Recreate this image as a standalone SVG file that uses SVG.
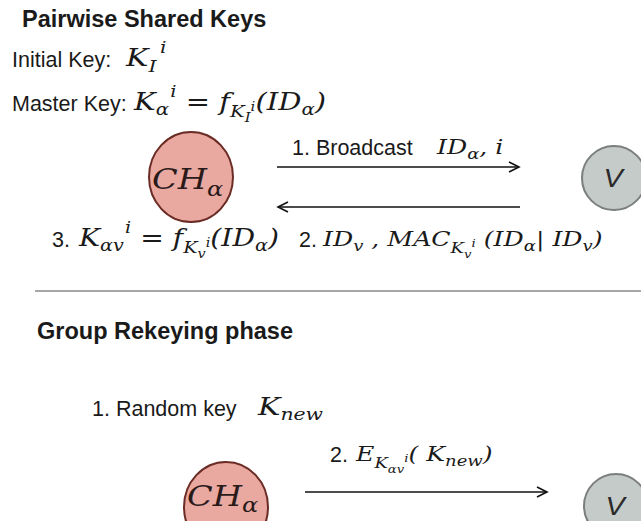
<svg xmlns="http://www.w3.org/2000/svg" width="641" height="521" viewBox="0 0 641 521">
<style>
  .h { font-family: "Liberation Sans", Arial, sans-serif; font-weight: bold; font-size: 23.5px; fill: #1a1a1a; }
  .t { font-family: "Liberation Sans", Arial, sans-serif; font-size: 21.5px; fill: #1a1a1a; }
  .m { font-family: "DejaVu Serif", "Liberation Serif", serif; font-style: italic; font-size: 25px; fill: #1a1a1a; }
  .s { font-size: 17px; }
  .ss { font-size: 13px; }
  .ch { fill: #E9A9A0; stroke: #6B2C25; stroke-width: 2; }
  .v { fill: #C4CBC8; stroke: #7A7F7D; stroke-width: 2; }
  .nl { font-family: "DejaVu Serif", "Liberation Serif", serif; font-style: italic; font-size: 28px; fill: #2a1a1a; }
  .vl { font-family: "Liberation Sans", Arial, sans-serif; font-style: italic; font-size: 25px; fill: #2a2a2a; }
  .arr { stroke: #111; stroke-width: 1.6; fill: none; }
  .l2 .m { font-size: 21px; }
  .l2 .s { font-size: 15px; }
  .l2 .ss { font-size: 11px; }
  .l3 .m { font-size: 23.5px; }
  .l3 .s { font-size: 16px; }
  .l3 .ss { font-size: 12px; }
</style>
<defs>
  <marker id="head" markerWidth="14" markerHeight="12" refX="11" refY="6" orient="auto" markerUnits="userSpaceOnUse">
    <path d="M1,1 L11,6 L1,11" fill="none" stroke="#111" stroke-width="1.6"/>
  </marker>
</defs>

<rect width="641" height="521" fill="#ffffff"/>

<!-- headings and key definitions; formulas are drawn slightly wide -->
<text class="h" x="22" y="27">Pairwise Shared Keys</text>
<text class="t" x="12" y="67">Initial Key:</text>
<text class="m" transform="translate(126,66) scale(1.2,1)">K<tspan class="s" dy="6">I</tspan><tspan class="s" dy="-19" dx="3">i</tspan></text>
<text class="t" x="12" y="111">Master Key:</text>
<text class="m" transform="translate(134,110) scale(1.16,1)">K<tspan class="s" dy="5">α</tspan><tspan class="s" dy="-18" dx="1">i</tspan><tspan dy="13"> = f</tspan><tspan class="s" dy="7">K</tspan><tspan class="ss" dy="5">I</tspan><tspan class="ss" dy="-11">i</tspan><tspan dy="-1">(ID</tspan><tspan class="s" dy="5">α</tspan><tspan dy="-5">)</tspan></text>

<!-- pairwise exchange -->
<g id="ch-top">
  <ellipse class="ch" cx="191" cy="177" rx="42" ry="45"/>
  <text class="nl" transform="translate(152,189) scale(1.2,1)">CH<tspan font-size="20" dy="7">α</tspan></text>
</g>
<g id="v-top">
  <circle class="v" cx="614" cy="178" r="32"/>
  <text class="vl" transform="translate(613,187) scale(1.15,1)" text-anchor="middle">V</text>
</g>

<g id="connectors">
  <line class="arr" x1="277" y1="167" x2="519" y2="167" marker-end="url(#head)"/>
  <line class="arr" x1="520" y1="207" x2="278" y2="207" marker-end="url(#head)"/>
  <line class="arr" x1="305" y1="492" x2="547" y2="492" marker-end="url(#head)"/>
</g>

<!-- message labels -->
<text class="t" font-size="24.5" x="292" y="155">1. Broadcast</text>
<text class="l2" transform="translate(437,154) scale(1.2,1)"><tspan class="m">ID</tspan><tspan class="m s" dy="5">α</tspan><tspan class="m" dy="-5">, i</tspan></text>

<text class="t" font-size="22" x="52" y="247">3.</text>
<text class="l3" transform="translate(79,246) scale(1.2,1)"><tspan class="m">K</tspan><tspan class="m s" dy="5">αv</tspan><tspan class="m s" dy="-18" dx="1">i</tspan><tspan class="m" dy="13"> = f</tspan><tspan class="m s" dy="7">K</tspan><tspan class="m ss" dy="5">v</tspan><tspan class="m ss" dy="-11">i</tspan><tspan class="m" dy="-1">(ID</tspan><tspan class="m s" dy="5">α</tspan><tspan class="m" dy="-5">)</tspan></text>

<text class="t" font-size="22" x="299" y="247">2.</text>
<text class="l2" transform="translate(323,246) scale(1.2,1)"><tspan class="m">ID</tspan><tspan class="m s" dy="5">v</tspan><tspan class="m" dy="-5"> , MAC</tspan><tspan class="m s" dy="7">K</tspan><tspan class="m ss" dy="5">v</tspan><tspan class="m ss" dy="-11">i</tspan><tspan class="m" dy="-1"> (ID</tspan><tspan class="m s" dy="5">α</tspan><tspan class="m" dy="-5">| ID</tspan><tspan class="m s" dy="5">v</tspan><tspan class="m" dy="-5">)</tspan></text>

<!-- divider -->
<line x1="35" y1="291" x2="641" y2="291" stroke="#8a8a8a" stroke-width="1.6"/>

<!-- group rekeying -->
<text class="h" x="37" y="339">Group Rekeying phase</text>
<text class="t" font-size="26.5" x="92" y="416">1. Random key</text>
<text class="m" transform="translate(258,415) scale(1.2,1)">K<tspan class="s" dy="5">new</tspan></text>

<g id="ch-bottom">
  <ellipse class="ch" cx="226" cy="507" rx="42" ry="45"/>
  <text class="nl" transform="translate(187,506) scale(1.2,1)">CH<tspan font-size="20" dy="6">α</tspan></text>
</g>
<g id="v-bottom">
  <circle class="v" cx="616" cy="506" r="32"/>
  <text class="vl" transform="translate(615,515) scale(1.15,1)" text-anchor="middle">V</text>
</g>

<text class="t" font-size="22" x="330" y="462">2.</text>
<text class="l2" transform="translate(356,461) scale(1.2,1)"><tspan class="m" font-size="21.5">E</tspan><tspan class="m s" dy="7">K</tspan><tspan class="m ss" dy="5">αv</tspan><tspan class="m ss" dy="-11">i</tspan><tspan class="m" font-size="21.5" dy="-1">( K</tspan><tspan class="m s" dy="5">new</tspan><tspan class="m" font-size="21.5" dy="-5">)</tspan></text>
</svg>
